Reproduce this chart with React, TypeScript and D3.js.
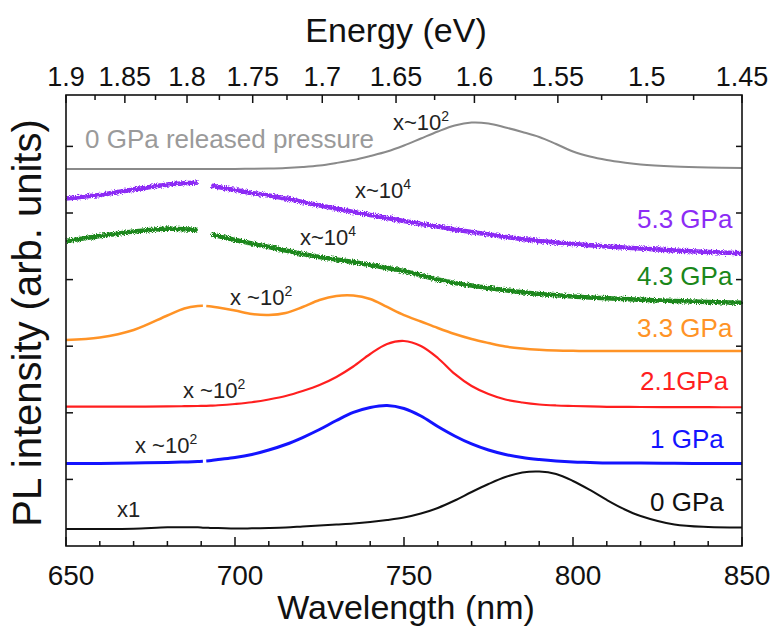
import React from "react";
import * as d3 from "d3";

// Wavelength grid (nm)
const wavelengths = [650, 660, 670, 680, 685, 689, 690.5, 691, 691.5, 693, 695, 700, 705, 710, 715, 720, 725, 730, 735, 740, 745, 750, 755, 760, 765, 770, 775, 780, 785, 790, 795, 800, 805, 810, 815, 820, 830, 840, 850];

// Offset PL intensities (arb. units, one y-tick = 1)
const gpa0 = [0.255, 0.255, 0.26, 0.28, 0.28, 0.28, 0.275, 0.275, 0.275, 0.27, 0.27, 0.262, 0.265, 0.27, 0.278, 0.293, 0.308, 0.323, 0.338, 0.36, 0.39, 0.428, 0.488, 0.571, 0.683, 0.811, 0.931, 1.036, 1.104, 1.119, 1.081, 0.976, 0.841, 0.691, 0.556, 0.45, 0.323, 0.285, 0.278];
const gpa1 = [1.239, 1.239, 1.246, 1.254, 1.261, 1.269, 1.272, null, 1.276, 1.284, 1.299, 1.329, 1.374, 1.441, 1.524, 1.629, 1.749, 1.884, 2.005, 2.08, 2.11, 2.065, 1.952, 1.794, 1.652, 1.532, 1.441, 1.374, 1.329, 1.299, 1.276, 1.261, 1.254, 1.246, 1.246, 1.246, 1.242, 1.239, 1.239];
const gpa2_1 = [2.092, 2.092, 2.093, 2.096, 2.099, 2.102, 2.105, 2.105, 2.105, 2.108, 2.113, 2.132, 2.158, 2.2, 2.252, 2.327, 2.417, 2.538, 2.695, 2.883, 3.033, 3.078, 3.003, 2.823, 2.583, 2.402, 2.282, 2.2, 2.155, 2.125, 2.11, 2.102, 2.095, 2.09, 2.088, 2.087, 2.085, 2.084, 2.083];
const gpa3_3 = [3.093, 3.131, 3.243, 3.461, 3.566, 3.604, 3.607, null, 3.604, 3.596, 3.581, 3.536, 3.483, 3.468, 3.498, 3.589, 3.694, 3.754, 3.761, 3.709, 3.589, 3.468, 3.371, 3.273, 3.183, 3.108, 3.048, 2.995, 2.965, 2.946, 2.935, 2.93, 2.928, 2.928, 2.928, 2.928, 2.928, 2.928, 2.928];
const gpa4_3 = [4.58, 4.655, 4.722, 4.767, 4.755, 4.745, null, null, null, 4.677, 4.655, 4.595, 4.542, 4.489, 4.437, 4.384, 4.339, 4.302, 4.264, 4.219, 4.174, 4.129, 4.062, 4.002, 3.949, 3.911, 3.874, 3.839, 3.809, 3.784, 3.764, 3.746, 3.731, 3.719, 3.709, 3.698, 3.679, 3.664, 3.653];
const gpa5_3 = [5.218, 5.27, 5.353, 5.428, 5.446, 5.458, null, null, null, 5.413, 5.39, 5.345, 5.3, 5.263, 5.218, 5.165, 5.113, 5.068, 5.015, 4.97, 4.925, 4.88, 4.835, 4.797, 4.752, 4.715, 4.677, 4.64, 4.61, 4.58, 4.557, 4.535, 4.515, 4.497, 4.482, 4.467, 4.437, 4.414, 4.395];
const gpa0Released = [5.661, 5.661, 5.661, 5.661, 5.661, 5.661, 5.661, 5.661, 5.661, 5.661, 5.661, 5.661, 5.664, 5.668, 5.676, 5.691, 5.713, 5.751, 5.796, 5.856, 5.923, 6.014, 6.119, 6.224, 6.314, 6.359, 6.344, 6.284, 6.216, 6.141, 6.036, 5.923, 5.848, 5.796, 5.758, 5.728, 5.698, 5.683, 5.676];

// Axis ticks
const wlMajor = [650, 700, 750, 800, 850];
const wlMinor = [660, 670, 680, 690, 710, 720, 730, 740, 760, 770, 780, 790, 810, 820, 830, 840];
const energyMajor = [1.9, 1.85, 1.8, 1.75, 1.7, 1.65, 1.6, 1.55, 1.5, 1.45];
const energyMinor = [1.875, 1.825, 1.775, 1.725, 1.675, 1.625, 1.575, 1.525, 1.475];
const energyLabels = ["1.9", "1.85", "1.8", "1.75", "1.7", "1.65", "1.6", "1.55", "1.5", "1.45"];
const yTicks = [1, 2, 3, 4, 5, 6];

const FONT = "'Liberation Sans', Arial, Helvetica, sans-serif";
const L = 66, R = 742, T = 95, B = 546;

export default function App() {
  const x = d3.scaleLinear().domain([650, 850]).range([L, R]);
  const xE = d3.scaleLinear().domain([1 / 1.9, 1 / 1.45]).range([L, R]);
  const y = d3.scaleLinear().domain([0, 451 / 66.6]).range([B, T]);

  const mk = (vals: (number | null)[], smooth: boolean) => {
    const pts = wavelengths.map((w, i) => [w, vals[i]] as [number, number | null]);
    const gen = d3
      .line<[number, number | null]>()
      .defined((d) => d[1] != null)
      .x((d) => x(d[0]))
      .y((d) => y(d[1] as number))
      .curve(smooth ? d3.curveCatmullRom.alpha(0.5) : d3.curveLinear);
    return gen(pts) || "";
  };

  const curves = [
    { vals: gpa0Released, color: "#8a8a8a", w: 2, noisy: false },
    { vals: gpa5_3, color: "#8c2cf5", w: 4.5, noisy: true },
    { vals: gpa4_3, color: "#1a871a", w: 4.5, noisy: true },
    { vals: gpa3_3, color: "#ff9326", w: 2.5, noisy: false },
    { vals: gpa2_1, color: "#ff1f1f", w: 2.2, noisy: false },
    { vals: gpa1, color: "#1414ff", w: 3, noisy: false },
    { vals: gpa0, color: "#111111", w: 2, noisy: false },
  ];

  const multFs = 22;
  const mult = (tx: number, ty: number, txt: string, sup: string, key: string) => (
    <text key={key} x={tx} y={ty} fontSize={multFs} fill="#222" fontFamily={FONT}>
      {txt}
      <tspan dy={-9} fontSize={14}>{sup}</tspan>
    </text>
  );

  const lblFs = 26;

  return (
    <svg width={776} height={628} style={{ position: "absolute", left: 0, top: 0, background: "#fff" }}>
      <defs>
        <filter id="noise" x="-5%" y="-50%" width="110%" height="200%">
          <feTurbulence type="fractalNoise" baseFrequency="0.9" numOctaves="2" seed="3" result="t" />
          <feDisplacementMap in="SourceGraphic" in2="t" scale="5" xChannelSelector="R" yChannelSelector="G" />
        </filter>
      </defs>

      {/* curves */}
      {curves.map((c, i) => (
        <path
          key={i}
          d={mk(c.vals, !c.noisy)}
          fill="none"
          stroke={c.color}
          strokeWidth={c.w}
          strokeLinejoin="round"
          filter={c.noisy ? "url(#noise)" : undefined}
        />
      ))}

      {/* frame */}
      <rect x={L} y={T} width={R - L} height={B - T} fill="none" stroke="#111" strokeWidth={1.6} />

      {/* bottom ticks */}
      {wlMajor.map((w) => (
        <g key={"bm" + w}>
          <line x1={x(w)} x2={x(w)} y1={B} y2={B - 9} stroke="#111" strokeWidth={1.5} />
          <text x={x(w) + 5} y={585} fontSize={28} textAnchor="middle" fill="#111" fontFamily={FONT}>{w}</text>
        </g>
      ))}
      {wlMinor.map((w) => (
        <line key={"bn" + w} x1={x(w)} x2={x(w)} y1={B} y2={B - 5} stroke="#111" strokeWidth={1.5} />
      ))}

      {/* top ticks */}
      {energyMajor.map((e, i) => (
        <g key={"tm" + e}>
          <line x1={xE(1 / e)} x2={xE(1 / e)} y1={T} y2={T + 8} stroke="#111" strokeWidth={1.5} />
          <text x={xE(1 / e)} y={86} fontSize={27} textAnchor="middle" fill="#111" fontFamily={FONT}>{energyLabels[i]}</text>
        </g>
      ))}
      {energyMinor.map((e) => (
        <line key={"tn" + e} x1={xE(1 / e)} x2={xE(1 / e)} y1={T} y2={T + 5} stroke="#111" strokeWidth={1.5} />
      ))}

      {/* left / right ticks */}
      {yTicks.map((t) => (
        <g key={"y" + t}>
          <line x1={L} x2={L + 7} y1={y(t)} y2={y(t)} stroke="#111" strokeWidth={1.5} />
          <line x1={R} x2={R - 6} y1={y(t)} y2={y(t)} stroke="#111" strokeWidth={1.5} />
        </g>
      ))}

      {/* axis titles */}
      <text x={396} y={42} fontSize={34} textAnchor="middle" fill="#111" fontFamily={FONT}>Energy (eV)</text>
      <text x={406} y={619} fontSize={34} textAnchor="middle" fill="#111" fontFamily={FONT}>Wavelength (nm)</text>
      <text transform="translate(41,323) rotate(-90)" fontSize={40} textAnchor="middle" fill="#111" fontFamily={FONT}>PL intensity (arb. units)</text>

      {/* series labels */}
      <text x={85} y={148} fontSize={lblFs} fill="#9a9a9a" fontFamily={FONT}>0 GPa released pressure</text>
      <text x={637} y={228} fontSize={lblFs} fill="#8c2cf5" fontFamily={FONT}>5.3 GPa</text>
      <text x={637} y={285} fontSize={lblFs} fill="#1a871a" fontFamily={FONT}>4.3 GPa</text>
      <text x={637} y={336.5} fontSize={lblFs} fill="#ff9326" fontFamily={FONT}>3.3 GPa</text>
      <text x={640} y={390} fontSize={lblFs} fill="#ff1f1f" fontFamily={FONT}>2.1GPa</text>
      <text x={650} y={448} fontSize={lblFs} fill="#1414ff" fontFamily={FONT}>1 GPa</text>
      <text x={650} y={511} fontSize={lblFs} fill="#111" fontFamily={FONT}>0 GPa</text>

      {/* multipliers */}
      {mult(393, 130, "x~10", "2", "m0r")}
      {mult(355, 198, "x~10", "4", "m53")}
      {mult(300, 245, "x~10", "4", "m43")}
      {mult(230, 305, "x ~10", "2", "m33")}
      {mult(183, 398, "x ~10", "2", "m21")}
      {mult(135, 453, "x ~10", "2", "m1")}
      <text x={117} y={517} fontSize={multFs} fill="#222" fontFamily={FONT}>x1</text>
    </svg>
  );
}
